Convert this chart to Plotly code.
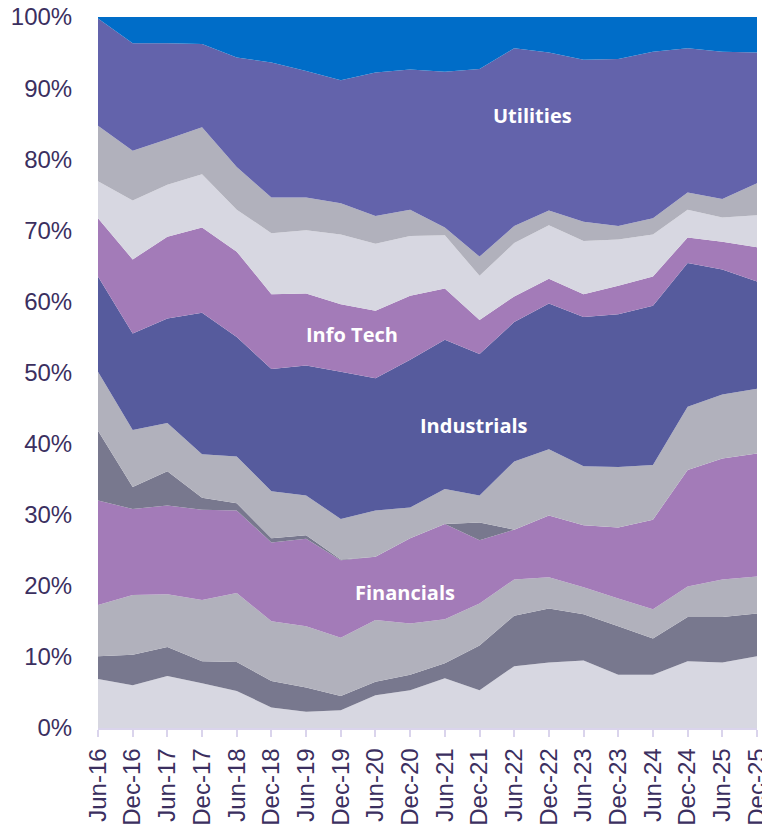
import plotly.graph_objects as go

dates = ["Jun-16", "Dec-16", "Jun-17", "Dec-17", "Jun-18", "Dec-18", "Jun-19", "Dec-19",
         "Jun-20", "Dec-20", "Jun-21", "Dec-21", "Jun-22", "Dec-22", "Jun-23", "Dec-23",
         "Jun-24", "Dec-24", "Jun-25", "Dec-25"]

communication_services = [6.9, 6.0, 7.3, 6.3, 5.2, 2.9, 2.3, 2.5, 4.6, 5.3, 7.0, 5.3, 8.7, 9.2, 9.5, 7.5, 7.5, 9.4, 9.2, 10.1]
consumer_discretionary = [3.2, 4.3, 4.1, 3.1, 4.1, 3.7, 3.4, 2.0, 1.9, 2.2, 2.1, 6.3, 7.1, 7.6, 6.5, 6.8, 5.1, 6.2, 6.4, 6.0]
consumer_staples = [7.2, 8.4, 7.4, 8.6, 9.7, 8.4, 8.6, 8.2, 8.7, 7.2, 6.2, 5.9, 5.1, 4.4, 3.8, 3.9, 4.1, 4.3, 5.3, 5.2]
financials = [14.7, 12.1, 12.5, 12.7, 11.6, 11.1, 12.3, 10.9, 8.9, 12.0, 13.4, 8.9, 7.0, 8.7, 8.7, 10.0, 12.6, 16.4, 17.0, 17.3]
energy = [9.8, 3.1, 4.8, 1.7, 1.0, 0.6, 0.5, 0.1, 0.0, 0.0, 0.0, 2.5, 0.0, 0.0, 0.0, 0.0, 0.0, 0.0, 0.0, 0.0]
health_care = [8.3, 8.0, 6.8, 6.1, 6.6, 6.6, 5.6, 5.7, 6.5, 4.3, 4.9, 3.8, 9.6, 9.3, 8.3, 8.5, 7.7, 8.9, 9.0, 9.1]
industrials = [13.4, 13.6, 14.7, 19.9, 16.8, 17.2, 18.3, 20.7, 18.6, 20.8, 21.0, 19.9, 19.6, 20.5, 21.0, 21.5, 22.4, 20.2, 17.6, 15.1]
info_tech = [8.2, 10.4, 11.5, 12.0, 12.0, 10.5, 10.1, 9.5, 9.5, 9.0, 7.2, 4.8, 3.6, 3.5, 3.2, 4.0, 4.1, 3.6, 3.9, 4.8]
materials = [5.2, 8.3, 7.3, 7.5, 5.9, 8.6, 8.9, 9.8, 9.4, 8.4, 7.5, 6.2, 7.5, 7.5, 7.5, 6.5, 5.9, 3.9, 3.4, 4.5]
real_estate = [7.8, 7.0, 6.4, 6.6, 6.0, 5.0, 4.6, 4.4, 3.9, 3.7, 1.1, 2.7, 2.4, 2.1, 2.7, 1.9, 2.3, 2.4, 2.6, 4.5]
utilities = [15.1, 15.1, 13.5, 11.7, 15.4, 19.0, 17.8, 17.3, 20.2, 19.7, 21.9, 26.4, 25.0, 22.2, 22.8, 23.5, 23.4, 20.3, 20.7, 18.4]
cash = [0.2, 3.7, 3.7, 3.8, 5.7, 6.4, 7.6, 8.9, 7.8, 7.4, 7.7, 7.3, 4.4, 5.0, 6.0, 5.9, 4.9, 4.4, 4.9, 5.0]

series = [
    ("Communication Services", communication_services, "#D7D7E1"),
    ("Consumer Discretionary", consumer_discretionary, "#78788E"),
    ("Consumer Staples", consumer_staples, "#B1B1BC"),
    ("Financials", financials, "#A37BB8"),
    ("Energy", energy, "#78788E"),
    ("Health Care", health_care, "#B1B1BC"),
    ("Industrials", industrials, "#565B9D"),
    ("Info Tech", info_tech, "#A37BB8"),
    ("Materials", materials, "#D7D7E1"),
    ("Real Estate", real_estate, "#B1B1BC"),
    ("Utilities", utilities, "#6363AB"),
    ("Cash", cash, "#006DC8"),
]

fig = go.Figure()
for name, vals, col in series:
    fig.add_trace(go.Scatter(
        x=dates, y=vals, name=name, stackgroup="one", groupnorm="percent",
        mode="none", fillcolor=col, line=dict(width=0), showlegend=False,
    ))

tick_color = "#3B2F5F"
axis_line = "#DAD4EC"

# page body has an 8px default margin, so the figure is sized/offset to compensate
fig.update_layout(
    width=762, height=824,
    margin=dict(l=90, r=13, t=9, b=104, autoexpand=False),
    paper_bgcolor="white", plot_bgcolor="white",
    showlegend=False,
    xaxis=dict(
        type="category", range=[0, len(dates) - 1], automargin=False,
        tickangle=-90, tickfont=dict(family="Liberation Sans, Arial", size=24, color=tick_color),
        ticks="outside", ticklen=7, tickcolor=axis_line, tickwidth=1.5,
        ticklabelstandoff=2, ticklabeloverflow="allow",
        showline=True, linecolor=axis_line, linewidth=1.5,
        showgrid=False, zeroline=False,
    ),
    yaxis=dict(
        range=[0, 100], dtick=10, ticksuffix="%", automargin=False,
        tickfont=dict(family="Liberation Sans, Arial", size=24, color=tick_color),
        ticks="outside", ticklen=0, ticklabelstandoff=20, ticklabeloverflow="allow",
        showgrid=False, zeroline=False, showline=False,
    ),
)

label_font = dict(family="Open Sans, Noto Sans", size=20, color="white")
labels = [
    ("Utilities", 0.6595, 0.861),
    ("Info Tech", 0.385, 0.553),
    ("Industrials", 0.571, 0.425),
    ("Financials", 0.466, 0.190),
]
for text, xp, yp in labels:
    fig.add_annotation(text="<b>%s</b>" % text, x=xp, y=yp, xref="paper", yref="paper",
                       showarrow=False, font=label_font, xanchor="center", yanchor="middle")

fig.write_html("out.html")
